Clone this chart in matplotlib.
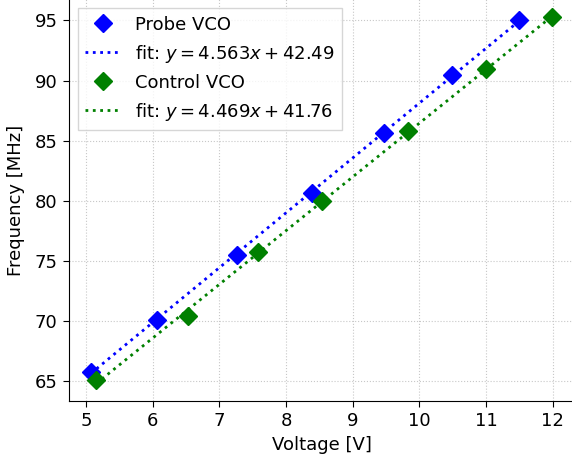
import numpy as np
import matplotlib
matplotlib.use("Agg")
import matplotlib.pyplot as plt

# Measured tuning points
probe_v = [5.07, 6.06, 7.26, 8.39, 9.47, 10.49, 11.49]
probe_f = [65.75, 70.08, 75.5, 80.67, 85.67, 90.42, 95.0]
control_v = [5.15, 6.53, 7.58, 8.54, 9.83, 11.0, 11.99]
control_f = [65.08, 70.42, 75.75, 80.0, 85.83, 90.92, 95.25]

# Linear fit coefficients (slope, intercept)
probe_fit = (4.563, 42.49)
control_fit = (4.469, 41.76)

W, H, DPI = 572, 463, 100
fig = plt.figure(figsize=(W / DPI, H / DPI), dpi=DPI)
left_px, bottom_px, right_px, top_px = 68.5, 401, 576, -0.6
ax = fig.add_axes([left_px / W, (H - bottom_px) / H,
                   (right_px - left_px) / W, (bottom_px - top_px) / H])

fs = 13

def draw(v, f, fit, color, name):
    ax.plot(v, f, linestyle="none", marker="D", markersize=9,
            color=color, label=name, zorder=3)
    xs = np.array([min(v), max(v)])
    ax.plot(xs, fit[0] * xs + fit[1], linestyle=":", linewidth=2,
            color=color, zorder=2,
            label=r"fit: $y = %.3fx + %.2f$" % fit)

draw(probe_v, probe_f, probe_fit, "blue", "Probe VCO")
draw(control_v, control_f, control_fit, "green", "Control VCO")

ax.set_xlim(4.735, 12.35)
ax.set_ylim(63.33, 96.75)
ax.set_xticks(range(5, 13))
ax.set_yticks(range(65, 96, 5))
ax.grid(True, linestyle=":", color="#c8c8c8", linewidth=0.8)
ax.tick_params(labelsize=fs, length=4.5)
ax.set_xlabel("Voltage [V]", fontsize=fs)
ax.set_ylabel("Frequency [MHz]", fontsize=fs, labelpad=7)
for s in ("top", "right"):
    ax.spines[s].set_visible(False)

ax.legend(loc="upper left", fontsize=fs, framealpha=0.8,
          edgecolor="#cccccc", fancybox=False)

fig.savefig("out.png", dpi=DPI)
